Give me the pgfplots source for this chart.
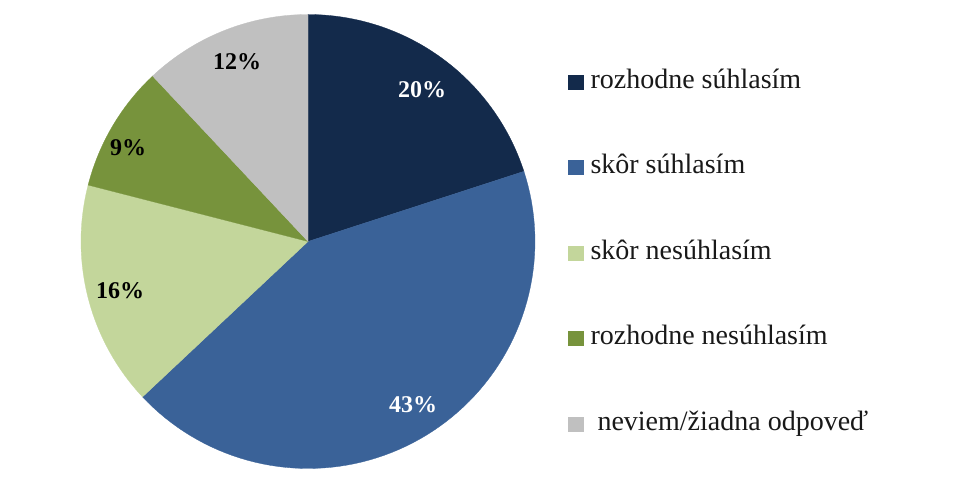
\documentclass[border=0pt]{standalone}
\usepackage{pgfplots}
\pgfplotsset{compat=1.18}
\usepackage{pgfplotstable}
\usepackage{fontspec}
\setmainfont{Liberation Serif}
\definecolor{cA}{HTML}{132A4B}
\definecolor{cB}{HTML}{3A6298}
\definecolor{cC}{HTML}{C3D69B}
\definecolor{cD}{HTML}{77933C}
\definecolor{cE}{HTML}{C0C0C0}
% start (cumulative %) and value (%)
\pgfplotstableread{
start value
0  20
20 43
63 16
79 9
88 12
}\piedata
\newcommand{\pieslice}[3]{%
  \pgfplotstablegetelem{#1}{start}\of\piedata \let\st\pgfplotsretval
  \pgfplotstablegetelem{#1}{value}\of\piedata \let\va\pgfplotsretval
  \pgfmathsetmacro\aa{90-3.6*(\st+\va)}%
  \pgfmathsetmacro\ab{90-3.6*\st}%
  \edef\tmp{\noexpand\addplot[fill=#2, draw=#2, line width=0.3pt, samples=80,
    legend image code/.code={\noexpand\fill[#2] (0pt,-7pt) rectangle (15pt,7pt); \noexpand\path (22pt,0pt);},
    domain=\aa:\ab]}%
  \tmp ({308+227*cos(x)},{247.5+227*sin(x)}) -- (axis cs:308,247.5) -- cycle;
  \addlegendentry{#3}
}
\begin{document}
\begin{tikzpicture}
\begin{axis}[
  width=969pt, height=489pt, scale only axis,
  xmin=0, xmax=969, ymin=0, ymax=489,
  hide axis, clip=false,
  legend style={at={(axis cs:568,421)}, anchor=north west, draw=none, fill=none,
    font=\fontsize{28}{30}\selectfont, text=black!90,
    row sep=58.5pt, inner sep=0pt,
    nodes={inner sep=0pt, text height=20pt, text depth=7pt}},
  legend cell align=left,
]
\path (axis cs:0,0) rectangle (axis cs:969,489);
\pieslice{0}{cA}{rozhodne súhlasím}
\pieslice{1}{cB}{skôr súhlasím}
\pieslice{2}{cC}{skôr nesúhlasím}
\pieslice{3}{cD}{rozhodne nesúhlasím}
\pieslice{4}{cE}{\ neviem/žiadna odpoveď}
\node[font=\fontsize{24}{26}\selectfont\bfseries, text=white] at (axis cs:422,399) {20\%};
\node[font=\fontsize{24}{26}\selectfont\bfseries, text=white] at (axis cs:413,84) {43\%};
\node[font=\fontsize{24}{26}\selectfont\bfseries, text=black] at (axis cs:120,198) {16\%};
\node[font=\fontsize{24}{26}\selectfont\bfseries, text=black] at (axis cs:128,341) {9\%};
\node[font=\fontsize{24}{26}\selectfont\bfseries, text=black] at (axis cs:237,427) {12\%};
\end{axis}
\end{tikzpicture}
\end{document}
